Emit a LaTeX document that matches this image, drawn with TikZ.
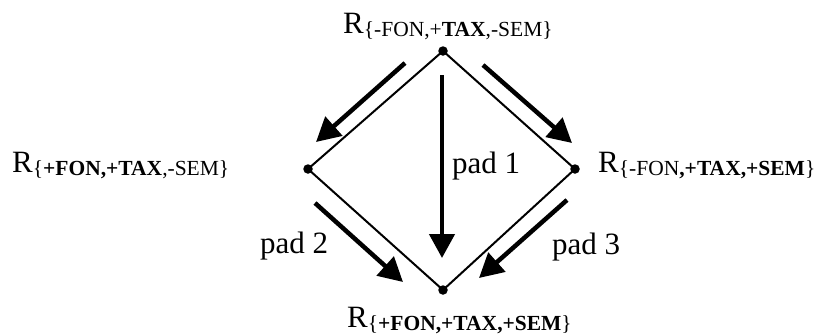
\documentclass[tikz,border=0pt]{standalone}
\usepackage{fontspec}
\setmainfont{Liberation Serif}
\usetikzlibrary{arrows.meta}
\newcommand{\bigf}{\fontsize{31}{37}\selectfont}
\newcommand{\subf}{\fontsize{21.5}{26}\selectfont}
\newcommand{\Rsub}[1]{R\raisebox{-3pt}{\subf #1}}
\begin{document}
\begin{tikzpicture}[x=1pt,y=-1pt,
  dot/.style={circle,fill=black,inner sep=0pt,minimum size=9.5pt},
  edge/.style={line width=2pt},
  bigarrow/.style={line width=4.5pt,-{Triangle[length=24pt,width=25pt]}},
  lbl/.style={anchor=base west,inner sep=0pt,font=\bigf}]
\useasboundingbox (0,0) rectangle (815,335);
% diamond vertices
\node[dot] (T) at (443,51) {};
\node[dot] (L) at (308,169) {};
\node[dot] (R) at (575,169) {};
\node[dot] (B) at (443,290) {};
\draw[edge] (T.center) -- (L.center) -- (B.center) -- (R.center) -- cycle;
% labels
\node[lbl] (lt) at (343,33) {\Rsub{\{-FON,+\textbf{TAX},-SEM\}}};
\node[lbl] (ll) at (12,172) {\Rsub{\{\textbf{+FON,+TAX},-SEM\}}};
\node[lbl] (lr) at (598,172) {\Rsub{\{-FON\textbf{,+TAX,+SEM}\}}};
\node[lbl] (lb) at (347,327) {\Rsub{\{\textbf{+FON,+TAX,+SEM}\}}};
\node[lbl] (p1) at (452,173) {pad 1};
\node[lbl] (p2) at (260,253) {pad 2};
\node[lbl] (p3) at (552,254) {pad 3};
% arrow end points
\coordinate (a1s) at (405,63);  \coordinate (a1e) at (316,142);
\coordinate (a2s) at (483,65);  \coordinate (a2e) at (572,143);
\coordinate (a3s) at (442,75);  \coordinate (a3e) at (442,258);
\coordinate (a4s) at (315,203); \coordinate (a4e) at (403,282);
\coordinate (a5s) at (567,200); \coordinate (a5e) at (479,278);
\draw[bigarrow] (a1s) -- (a1e);
\draw[bigarrow] (a2s) -- (a2e);
\draw[bigarrow] (a3s) -- (a3e);
\draw[bigarrow] (a4s) -- (a4e);
\draw[bigarrow] (a5s) -- (a5e);
\end{tikzpicture}
\end{document}
